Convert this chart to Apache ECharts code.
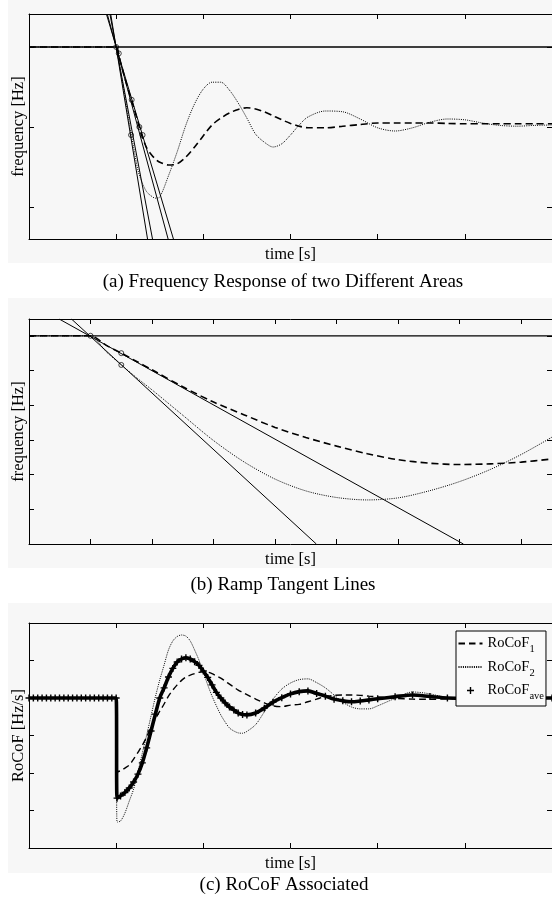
<!DOCTYPE html>
<html>
<head>
<meta charset="utf-8">
<script src="https://cdn.jsdelivr.net/npm/echarts@6/dist/echarts.min.js"></script>
<style>html,body{margin:0;padding:0;background:#fff;}#c{width:552px;height:899px;}</style>
</head>
<body>
<div id="c"></div>
<script>
// ---------- Panel (a): frequency response of two areas ----------
const timeA = [0,0.5,0.95,1.0,1.05,1.1,1.15,1.2,1.25,1.3,1.35,1.4,1.45,1.5,1.6,1.7,1.8,1.9,2.0,2.1,2.2,2.3,2.4,2.5,2.6,2.7,2.8,2.9,3.0,3.1,3.2,3.4,3.6,3.8,4.0,4.2,4.4,4.6,4.8,5.0,5.2,5.4,5.6,5.8,6.0];
const freqA_area1 = [0,0,0,0,-0.19,-0.39,-0.575,-0.75,-0.94,-1.125,-1.26,-1.34,-1.40,-1.44,-1.475,-1.46,-1.375,-1.25,-1.11,-0.975,-0.89,-0.825,-0.78,-0.76,-0.775,-0.81,-0.86,-0.91,-0.955,-0.99,-1.01,-1.01,-0.99,-0.97,-0.95,-0.95,-0.95,-0.95,-0.955,-0.96,-0.96,-0.96,-0.96,-0.96,-0.96];
const freqA_area2 = [0,0,0,0,-0.31,-0.61,-0.95,-1.25,-1.54,-1.70,-1.81,-1.86,-1.89,-1.875,-1.61,-1.31,-0.975,-0.71,-0.525,-0.44,-0.44,-0.54,-0.70,-0.89,-1.09,-1.19,-1.25,-1.21,-1.10,-0.975,-0.875,-0.80,-0.81,-0.90,-1.01,-1.05,-1.01,-0.94,-0.90,-0.91,-0.95,-0.98,-0.99,-0.98,-0.975];
const nominalA = 0;
const tangentsA = [
  [[0.937,0.4125],[1.360,-2.4]],
  [[0.928,0.4125],[1.417,-2.4]],
  [[0.898,0.4125],[1.596,-2.4]],
  [[0.888,0.4125],[1.657,-2.4]]
];
const tangentPointsA = [[1.0,0],[1.03,-0.08],[1.178,-0.66],[1.171,-1.1],[1.266,-1.0],[1.303,-1.1]];
const yTicksA = [-2,-1,0];

// ---------- Panel (b): ramp tangent lines ----------
const timeB = [0,0.5,0.9,1.0,1.25,1.5,1.75,2.0,2.5,3.0,3.5,4.0,4.5,5.0,5.5,6.0,6.5,7.0,7.5,8.0,8.5];
const freqB_area1 = [6,6,6,6,5.73,5.50,5.26,5.02,4.53,4.09,3.72,3.36,3.07,2.82,2.60,2.43,2.33,2.29,2.31,2.36,2.45];
const freqB_area2 = [6,6,6,6,5.55,5.16,4.79,4.44,3.71,2.98,2.36,1.87,1.53,1.34,1.27,1.33,1.53,1.80,2.15,2.58,3.08];
const nominalB = 6;
const tangentsB = [
  [[0.49,6.484],[7.06,0]],
  [[0.69,6.484],[4.67,0]]
];
const tangentPointsB = [[1.0,6],[1.5,5.5],[1.5,5.16]];

// ---------- Panel (c): RoCoF ----------
const timeC = [0,0.05,0.1,0.15,0.2,0.25,0.3,0.35,0.4,0.45,0.5,0.55,0.6,0.65,0.7,0.75,0.8,0.85,0.9,0.95,1.0,
  1.01,
  1.05,1.1,1.15,1.2,1.25,1.3,1.35,1.4,1.45,1.5,1.55,1.6,1.65,1.7,1.75,1.8,1.85,1.9,1.95,2.0,2.05,2.1,2.15,2.2,2.25,2.3,2.35,2.4,2.45,2.5,
  2.6,2.7,2.8,2.9,3.0,3.1,3.2,3.3,3.4,3.5,3.6,3.7,3.8,3.9,4.0,
  4.2,4.4,4.6,4.8,5.0,5.2,5.4,5.6,5.8,6.0];
const rocof1 = [0,0,0,0,0,0,0,0,0,0,0,0,0,0,0,0,0,0,0,0,0,
  -1.97,
  -1.94,-1.87,-1.79,-1.63,-1.45,-1.26,-1.04,-0.77,-0.56,-0.35,-0.16,0.05,0.21,0.35,0.47,0.56,0.61,0.65,0.685,0.70,0.69,0.65,0.59,0.53,0.45,0.37,0.29,0.21,0.15,0.09,
  -0.03,-0.13,-0.21,-0.23,-0.19,-0.17,-0.10,-0.03,0.04,0.07,0.08,0.08,0.07,0.05,0.03,
  -0.01,-0.03,-0.035,-0.02,0,0,0,0,0,0];
const rocof2 = [0,0,0,0,0,0,0,0,0,0,0,0,0,0,0,0,0,0,0,0,0,
  -3.31,
  -3.28,-3.07,-2.75,-2.43,-1.97,-1.47,-0.99,-0.48,0.03,0.48,0.88,1.28,1.52,1.64,1.68,1.65,1.52,1.28,1.01,0.69,0.35,0.05,-0.21,-0.45,-0.64,-0.80,-0.88,-0.93,-0.94,-0.89,
  -0.71,-0.37,-0.03,0.24,0.40,0.49,0.51,0.41,0.27,0.08,-0.11,-0.24,-0.29,-0.29,-0.21,
  -0.01,0.16,0.11,0,-0.05,-0.04,0,0.02,0.01,0];
const rocofAve = [0,0,0,0,0,0,0,0,0,0,0,0,0,0,0,0,0,0,0,0,0,
  -2.67,
  -2.61,-2.52,-2.40,-2.24,-2.03,-1.73,-1.33,-0.88,-0.43,0,0.27,0.56,0.79,0.96,1.04,1.075,1.04,0.97,0.87,0.72,0.55,0.35,0.15,0,-0.13,-0.24,-0.32,-0.40,-0.44,-0.45,
  -0.40,-0.27,-0.11,0.01,0.11,0.17,0.19,0.12,0.05,-0.03,-0.075,-0.10,-0.08,-0.05,-0.02,
  0.035,0.08,0.04,0,-0.01,0,0,0,0,0];

const legendNames = ['RoCoF1','RoCoF2','RoCoFave'];
const captions = ['(a) Frequency Response of two Different Areas','(b) Ramp Tangent Lines','(c) RoCoF Associated'];
const xNames = ['time [s]','time [s]','time [s]'];
const yNames = ['frequency [Hz]','frequency [Hz]','RoCoF [Hz/s]'];

// ---------- layout / style ----------
const FONT = "'Liberation Serif','Times New Roman',Times,serif";
const grids = [
  {left:29, top:14, width:526, height:225},
  {left:29, top:319, width:526, height:225},
  {left:29, top:623, width:526, height:225}
];
const xRanges = [[0,6],[0,8.5],[0,6]];
const yRanges = [[-2.4,0.4125],[0,6.484],[-4,2]];
const panels = [[8,0,544,263],[8,298,544,270],[8,603,544,270]];
const captionPos = [[283,282],[283,585],[284,885]];

const pair = (ts, vs) => ts.map((t,i) => [t, vs[i]]);
const nameStyle = {fontFamily:FONT, fontSize:16.5, color:'#000'};
const axLine = {show:true, onZero:false, lineStyle:{color:'#000', width:1}};
const tick = (extra) => Object.assign({show:true, inside:true, length:5, lineStyle:{color:'#000', width:1}}, extra||{});

const xAxes = [], yAxes = [];
for (let g = 0; g < 3; g++) {
  ['bottom','top'].forEach((pos, k) => {
    xAxes.push({type:'value', gridIndex:g, position:pos, min:xRanges[g][0], max:xRanges[g][1], interval:1,
      axisLine:axLine, axisTick:tick(), axisLabel:{show:false}, splitLine:{show:false},
      name: k === 0 ? xNames[g] : '', nameLocation:'middle', nameGap:7, nameTextStyle:nameStyle});
  });
  ['left','right'].forEach((pos, k) => {
    const ax = {type:'value', gridIndex:g, position:pos, min:yRanges[g][0], max:yRanges[g][1],
      axisLine:axLine, axisLabel:{show:false}, splitLine:{show:false},
      name: k === 0 ? yNames[g] : '', nameLocation:'middle', nameGap:2, nameTextStyle:nameStyle};
    if (g === 0) { ax.axisTick = tick({customValues: yTicksA}); }
    else { ax.interval = 1; ax.axisTick = tick(); }
    yAxes.push(ax);
  });
}

const series = [];
const lineS = (g, data, style, extra) => Object.assign({
  type:'line', xAxisIndex:2*g, yAxisIndex:2*g, data:data, symbol:'none', showSymbol:false,
  smooth:0.3, lineStyle:Object.assign({color:'#000', width:1}, style), itemStyle:{color:'#000'},
  silent:true, animation:false, clip:true
}, extra||{});
const circlesS = (g, data) => ({type:'scatter', xAxisIndex:2*g, yAxisIndex:2*g, data:data, symbol:'circle', symbolSize:5,
  itemStyle:{color:'rgba(0,0,0,0)', borderColor:'#000', borderWidth:0.9}, silent:true, animation:false, z:5});

// panel a
series.push(lineS(0, pair(timeA, freqA_area1), {type:[7,4], width:1.6}));
series.push(lineS(0, pair(timeA, freqA_area2), {type:[1,1.2], width:1}));
tangentsA.forEach(l => series.push(lineS(0, l, {width:1}, {smooth:false})));
series.push(lineS(0, [[timeA[0], nominalA],[timeA[timeA.length-1], nominalA]], {width:1.3}, {smooth:false}));
series.push(circlesS(0, tangentPointsA));
// panel b
series.push(lineS(1, pair(timeB, freqB_area1), {type:[7,4], width:1.6}));
series.push(lineS(1, pair(timeB, freqB_area2), {type:[1,1.2], width:1}));
tangentsB.forEach(l => series.push(lineS(1, l, {width:1}, {smooth:false})));
series.push(lineS(1, [[timeB[0], nominalB],[timeB[timeB.length-1], nominalB]], {width:1.3}, {smooth:false}));
series.push(circlesS(1, tangentPointsB));
// panel c
const PLUS = 'path://M4,0H6V4H10V6H6V10H4V6H0V4H4Z';
series.push(lineS(2, pair(timeC, rocof1), {type:[6.5,4], width:1.4}, {name:legendNames[0]}));
series.push(lineS(2, pair(timeC, rocof2), {type:[1,1.2], width:1}, {name:legendNames[1]}));
series.push(lineS(2, pair(timeC, rocofAve), {width:3.6}, {name:legendNames[2], symbol:PLUS, showSymbol:true, symbolSize:7, z:3}));

const graphics = [];
panels.forEach(p => graphics.push({type:'rect', shape:{x:p[0], y:p[1], width:p[2], height:p[3]},
  style:{fill:'#f7f7f7'}, z:-10, silent:true}));
captions.forEach((c, i) => graphics.push({type:'text', x:captionPos[i][0], y:captionPos[i][1],
  style:{text:c, fontFamily:FONT, fontSize:19, fill:'#000', align:'center', verticalAlign:'middle'}, silent:true}));

const chart = echarts.init(document.getElementById('c'), null, {renderer:'canvas', width:552, height:899});
chart.setOption({
  backgroundColor:'#ffffff',
  animation:false,
  grid:grids,
  xAxis:xAxes,
  yAxis:yAxes,
  graphic:graphics,
  legend:{
    data:[
      {name:legendNames[0], itemStyle:{opacity:0}},
      {name:legendNames[1], itemStyle:{opacity:0}},
      {name:legendNames[2], icon:PLUS, itemStyle:{color:'#000'}}
    ],
    orient:'vertical', left:456, top:631, itemWidth:24, itemHeight:7, itemGap:0.5,
    padding:[1,2,4,1.5], borderColor:'#000', borderWidth:1, backgroundColor:'#fafafa',
    selectedMode:false, align:'left',
    formatter: n => '{n|RoCoF}{s|' + n.slice(5) + '}',
    textStyle:{fontFamily:FONT, fontSize:14.5, color:'#000',
      rich:{n:{fontFamily:FONT, fontSize:14.5, lineHeight:15, color:'#000'},
            s:{fontFamily:FONT, fontSize:10.5, lineHeight:10, color:'#000', padding:[12,0,0,0]}}}
  },
  series:series
});
</script>
</body>
</html>
